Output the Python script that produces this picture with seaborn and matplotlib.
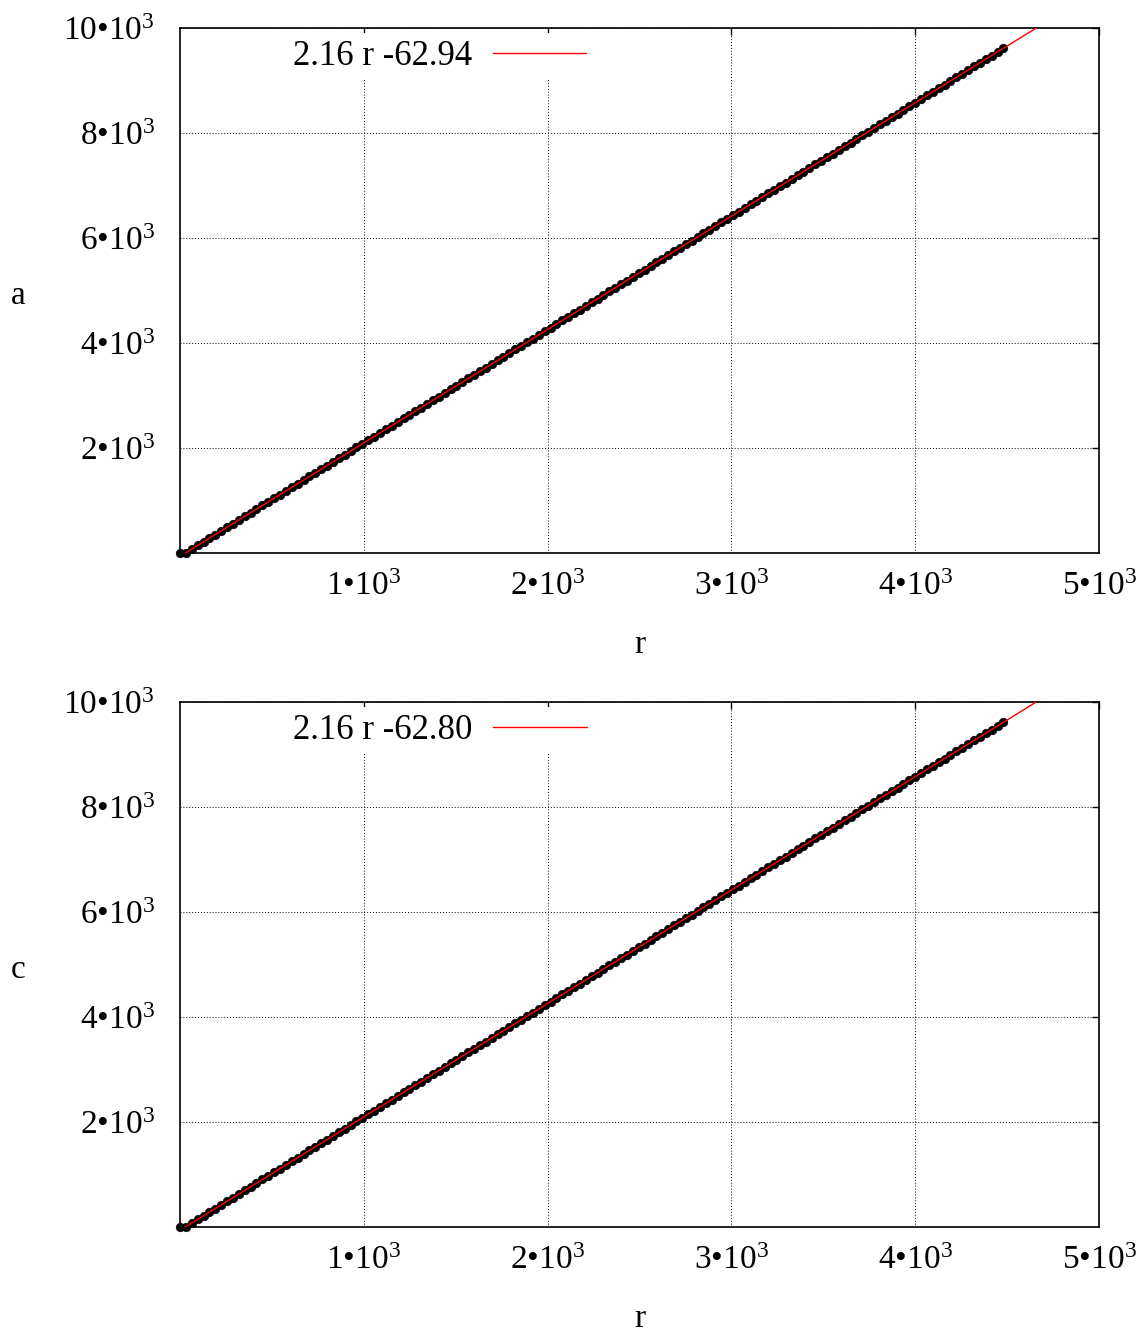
import matplotlib
matplotlib.use("Agg")
import matplotlib.pyplot as plt
import seaborn as sns
import pandas as pd
import numpy as np

# ---- data ----
r_vals = [0, 32, 64, 96, 128, 160, 192, 224, 256, 288,
          320, 352, 384, 416, 448, 480, 512, 544, 576, 608,
          640, 672, 704, 736, 768, 800, 832, 864, 896, 928,
          960, 992, 1024, 1056, 1088, 1120, 1152, 1184, 1216, 1248,
          1280, 1312, 1344, 1376, 1408, 1440, 1472, 1504, 1536, 1568,
          1600, 1632, 1664, 1696, 1728, 1760, 1792, 1824, 1856, 1888,
          1920, 1952, 1984, 2016, 2048, 2080, 2112, 2144, 2176, 2208,
          2240, 2272, 2304, 2336, 2368, 2400, 2432, 2464, 2496, 2528,
          2560, 2592, 2624, 2656, 2688, 2720, 2752, 2784, 2816, 2848,
          2880, 2912, 2944, 2976, 3008, 3040, 3072, 3104, 3136, 3168,
          3200, 3232, 3264, 3296, 3328, 3360, 3392, 3424, 3456, 3488,
          3520, 3552, 3584, 3616, 3648, 3680, 3712, 3744, 3776, 3808,
          3840, 3872, 3904, 3936, 3968, 4000, 4032, 4064, 4096, 4128,
          4160, 4192, 4224, 4256, 4288, 4320, 4352, 4384, 4416, 4448,
          4480]

a_vals = [0, 6, 75, 144, 214, 283, 352, 421, 490, 559,
          628, 697, 767, 836, 905, 974, 1043, 1112, 1181, 1250,
          1319, 1389, 1458, 1527, 1596, 1665, 1734, 1803, 1872, 1942,
          2011, 2080, 2149, 2218, 2287, 2356, 2425, 2495, 2564, 2633,
          2702, 2771, 2840, 2909, 2978, 3047, 3117, 3186, 3255, 3324,
          3393, 3462, 3531, 3600, 3670, 3739, 3808, 3877, 3946, 4015,
          4084, 4153, 4223, 4292, 4361, 4430, 4499, 4568, 4637, 4706,
          4775, 4845, 4914, 4983, 5052, 5121, 5190, 5259, 5328, 5398,
          5467, 5536, 5605, 5674, 5743, 5812, 5881, 5951, 6020, 6089,
          6158, 6227, 6296, 6365, 6434, 6503, 6573, 6642, 6711, 6780,
          6849, 6918, 6987, 7056, 7126, 7195, 7264, 7333, 7402, 7471,
          7540, 7609, 7679, 7748, 7817, 7886, 7955, 8024, 8093, 8162,
          8231, 8301, 8370, 8439, 8508, 8577, 8646, 8715, 8784, 8854,
          8923, 8992, 9061, 9130, 9199, 9268, 9337, 9407, 9476, 9545,
          9614]

# c coincides with a at the precision readable from the picture
c_vals = list(a_vals)

panel_names = ["a", "c"]
fit_slopes = [2.16, 2.16]
fit_intercepts = [-62.94, -62.80]
fit_labels = ["2.16 r -62.94", "2.16 r -62.80"]

x_ticks = [1000, 2000, 3000, 4000, 5000]
x_ticklabels = ["1•10$^{3}$", "2•10$^{3}$", "3•10$^{3}$", "4•10$^{3}$", "5•10$^{3}$"]
y_ticks = [2000, 4000, 6000, 8000, 10000]
y_ticklabels = ["2•10$^{3}$", "4•10$^{3}$", "6•10$^{3}$", "8•10$^{3}$", "10•10$^{3}$"]
fit_range = [0, 5000]

# ---- style ----
sns.set_theme(style="white")
plt.rcParams["font.family"] = ["Liberation Serif", "DejaVu Serif"]
plt.rcParams["mathtext.fontset"] = "custom"
plt.rcParams["mathtext.rm"] = "Liberation Serif"
plt.rcParams["mathtext.it"] = "Liberation Serif:italic"
plt.rcParams["mathtext.bf"] = "Liberation Serif:bold"
plt.rcParams["text.color"] = "black"
plt.rcParams["axes.labelcolor"] = "black"

FS = 24
LFS = 25

fig = plt.figure(figsize=(11.46, 13.33), dpi=100)
W, H = 1146, 1333
panels = [(180, 28, 1099, 553), (180, 702, 1099, 1227)]

series = [a_vals, c_vals]
for i, (l, t, rr, b) in enumerate(panels):
    ax = fig.add_axes([l / W, 1 - b / H, (rr - l) / W, (b - t) / H])
    df = pd.DataFrame({"r": r_vals, "v": series[i]})
    sns.scatterplot(data=df, x="r", y="v", ax=ax, color="black", s=40,
                    edgecolor="black", linewidth=0.3, zorder=3, legend=False,
                    clip_on=False)
    fx = np.array(fit_range, dtype=float)
    fy = fit_slopes[i] * fx + fit_intercepts[i]
    fdf = pd.DataFrame({"r": fx, "v": fy})
    sns.lineplot(data=fdf, x="r", y="v", ax=ax, color="#ff0000", linewidth=1.0,
                 zorder=4, label=fit_labels[i])
    ax.set_xlim(0, 5000)
    ax.set_ylim(0, 10000)
    ax.set_xticks(x_ticks)
    ax.set_xticklabels(x_ticklabels, fontsize=FS)
    ax.set_yticks(y_ticks)
    ax.set_yticklabels(y_ticklabels, fontsize=FS)
    ax.tick_params(direction="in", length=5, width=1.0, top=True, right=True,
                   color="black", labelcolor="black")
    ax.tick_params(axis="x", pad=13)
    ax.tick_params(axis="y", pad=18)
    ax.grid(True, color="black", linestyle=(0, (1, 2)), linewidth=0.7)
    ax.set_axisbelow(True)
    for sp in ax.spines.values():
        sp.set_color("black")
        sp.set_linewidth(1.2)
    ax.set_xlabel("r", fontsize=FS, color="black", labelpad=20)
    ax.set_ylabel(panel_names[i], fontsize=FS, color="black", rotation=0,
                  va="center", ha="center")
    ax.yaxis.set_label_coords(-0.1762, 0.49)
    leg = ax.legend(loc="upper left", bbox_to_anchor=(0.115, 0.99), frameon=True,
                    fontsize=LFS, markerfirst=False, handlelength=2.7,
                    handletextpad=0.6, borderpad=0.2, borderaxespad=0)
    for txt in leg.get_texts():
        txt.set_color("black")
    leg.get_frame().set_facecolor("white")
    leg.get_frame().set_edgecolor("none")
    leg.get_frame().set_alpha(1.0)
    leg.get_frame().set_boxstyle("square", pad=0)
    leg.set_zorder(2.5)

fig.savefig("out.png", dpi=100)
